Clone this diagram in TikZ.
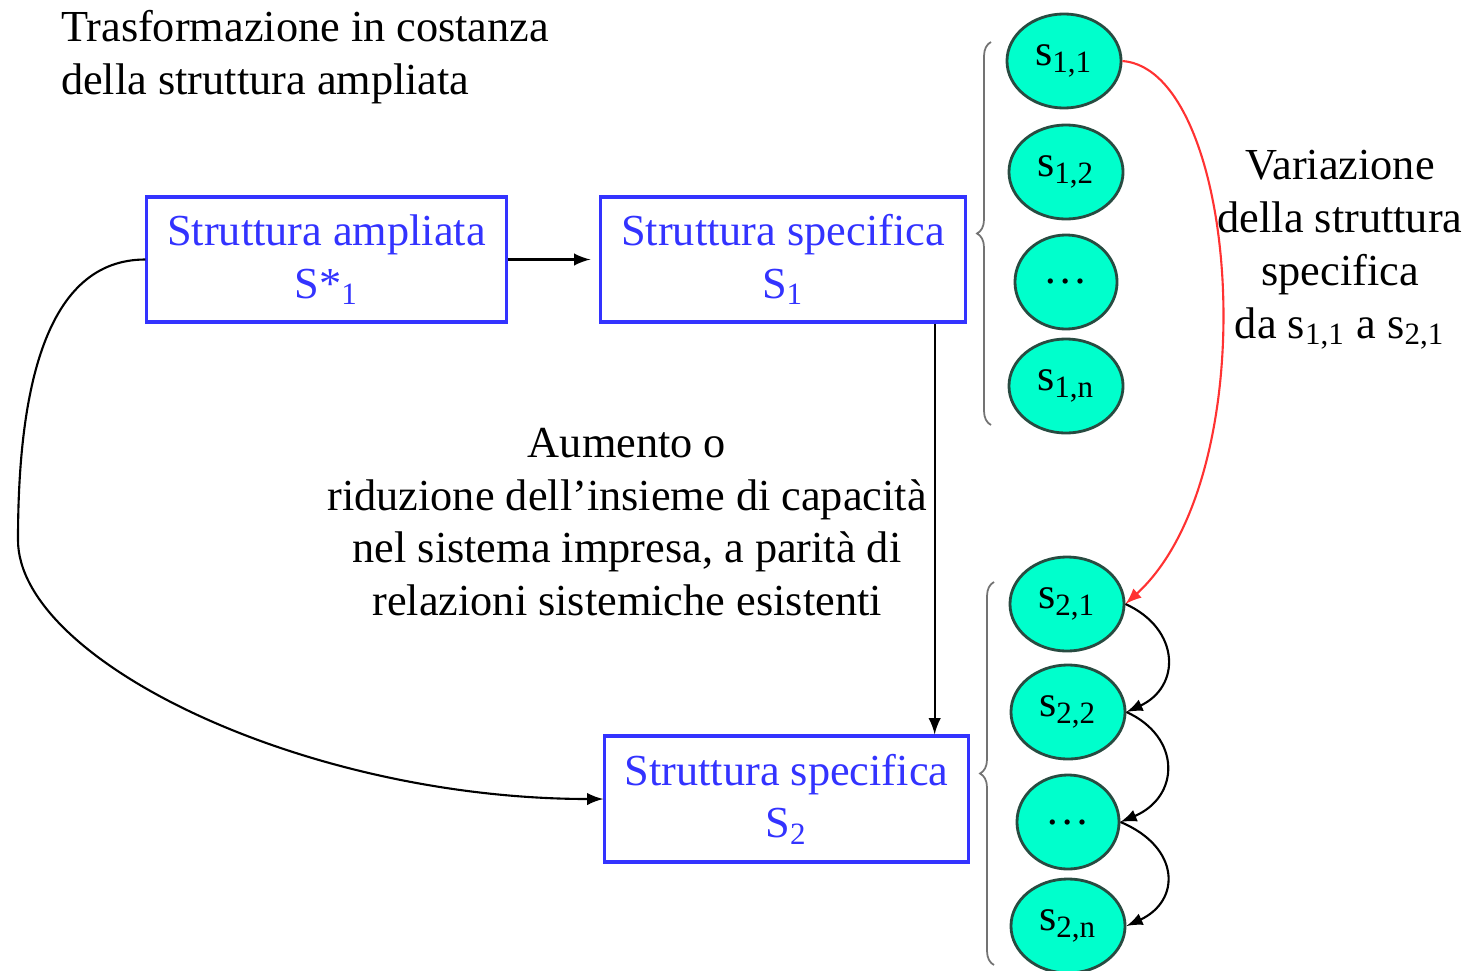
\documentclass[tikz,border=0pt]{standalone}
\usepackage{fontspec}
\setmainfont{Liberation Serif}
\usetikzlibrary{shapes.geometric,decorations.pathreplacing,arrows}
\definecolor{boxblue}{RGB}{51,51,255}
\definecolor{capfill}{RGB}{0,255,204}
\definecolor{capdraw}{RGB}{40,75,65}
\definecolor{varred}{RGB}{255,50,50}
\tikzset{
  struttura/.style={draw=boxblue,line width=0.9pt,text=boxblue,align=center,minimum height=1.25cm,inner sep=0pt},
  capac/.style={ellipse,draw=capdraw,line width=0.8pt,fill=capfill,minimum width=1.14cm,minimum height=0.94cm,inner sep=0pt},
  graffa/.style={decorate,decoration={brace,amplitude=0.14cm},draw=black!55,line width=0.5pt},
}
\begin{document}
\begin{tikzpicture}[x=0.01cm,y=-0.01cm,>=latex,line width=0.6pt,every node/.style={font=\fontsize{12.6}{15}\selectfont}]
\useasboundingbox (0,0) rectangle (1474,970);
\node[anchor=north west,align=left,inner sep=0pt] (titolo) at (60,9) {Trasformazione in costanza\\della struttura ampliata};
% strutture
\node[struttura,minimum width=3.59cm] (ampl) at (326.5,259.5) {Struttura ampliata\\S*\textsubscript{1}};
\node[struttura,minimum width=3.64cm] (spec1) at (783,259.5) {Struttura specifica\\S\textsubscript{1}};
\node[struttura,minimum width=3.63cm,minimum height=1.26cm] (spec2) at (786.5,799) {Struttura specifica\\S\textsubscript{2}};
\draw[->,shorten >=0.09cm] (ampl) -- (spec1);
\coordinate (drop) at ([xshift=-0.32cm]spec1.south east);
\draw[->] (drop) -- (drop |- spec2.north);
\coordinate (ansa) at (18,540);
\draw[->] (ampl.west) .. controls +(-100,0) and +(0,-150) .. (ansa) .. controls +(0,120) and +(-300,0) .. (spec2.west);
\node[align=center] (aumento) at (627,522) {Aumento o\\riduzione dell’insieme di capacità\\nel sistema impresa, a parità di\\relazioni sistemiche esistenti};
% capacita
\node[capac] (s11) at (1064,61) {s\textsubscript{1,1}};
\node[capac] (s12) at (1066,172) {s\textsubscript{1,2}};
\node[capac,minimum width=1.02cm] (s1d) at (1066,282) {\ldots};
\node[capac] (s1n) at (1066,386) {s\textsubscript{1,n}};
\node[capac] (s21) at (1067,604) {s\textsubscript{2,1}};
\node[capac] (s22) at (1068,712) {s\textsubscript{2,2}};
\node[capac,minimum width=1.02cm] (s2d) at (1068,822) {\ldots};
\node[capac] (s2n) at (1068,926) {s\textsubscript{2,n}};
\draw[graffa] (991,425) -- (991,42);
\draw[graffa] (994,965) -- (994,582);
\draw[->,varred] (s11.east) .. controls +(117,9) and +(143,-130) .. (s21.east);
\draw[->] (s21.east) .. controls +(55,25) and +(55,-25) .. (s22.east);
\draw[->] (s22.east) .. controls +(55,25) and +(60,-25) .. (s2d.east);
\draw[->] (s2d.east) .. controls +(60,25) and +(55,-25) .. (s2n.east);
\node[align=center] (variaz) at (1340,250) {Variazione\\della struttura\\specifica\\da s\textsubscript{1,1} a s\textsubscript{2,1}};
\end{tikzpicture}
\end{document}
